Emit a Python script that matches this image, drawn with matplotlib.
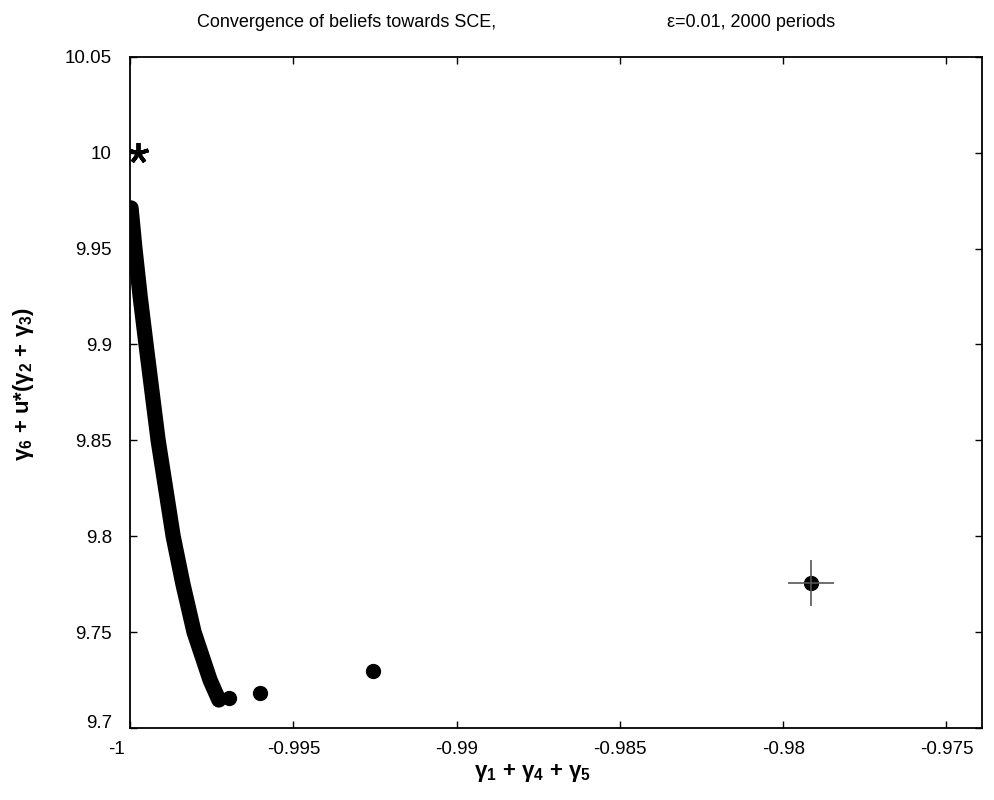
import matplotlib
matplotlib.use("Agg")
import matplotlib.pyplot as plt
from matplotlib.transforms import ScaledTranslation

plt.rcParams['font.family'] = ['Liberation Sans', 'DejaVu Sans']
plt.rcParams['mathtext.fontset'] = 'custom'
plt.rcParams['mathtext.rm'] = 'Liberation Sans'
plt.rcParams['mathtext.bf'] = 'Liberation Sans:bold'
plt.rcParams['mathtext.default'] = 'regular'

# belief path (dense part, 2000 periods merge into a thick band)
path_x = [-0.99997, -0.99985, -0.99969, -0.99951, -0.99914, -0.99868,
          -0.99838, -0.99804, -0.99755, -0.99728]
path_y = [9.9712, 9.950, 9.925, 9.900, 9.850, 9.800, 9.775, 9.750, 9.725, 9.7146]

# first periods, visible as separate dots
early_x = [-0.99697, -0.99602, -0.99256, -0.97915]
early_y = [9.7156, 9.7182, 9.7298, 9.7756]

# starting point (cross) and SCE (star)
start_x, start_y = -0.97915, 9.7756
sce_x, sce_y = -0.99976, 10.0

xticks = [-1, -0.995, -0.99, -0.985, -0.98, -0.975]
xtick_labels = ['-1', '-0.995', '-0.99', '-0.985', '-0.98', '-0.975']
yticks = [9.7, 9.75, 9.8, 9.85, 9.9, 9.95, 10.0, 10.05]
ytick_labels = ['9.7', '9.75', '9.8', '9.85', '9.9', '9.95', '10', '10.05']

fig = plt.figure(figsize=(9.95, 8.0), dpi=100)
ax = fig.add_axes([0.1307, 0.09, 0.8563, 0.839])

ax.plot(path_x, path_y, color='black', lw=11, solid_capstyle='round',
        solid_joinstyle='round')
ax.plot(early_x, early_y, 'o', color='black', ms=10, mec='black')
ax.plot([start_x], [start_y], '+', color='#555555', ms=33, mew=1.2)
ax.plot([sce_x], [sce_y], marker=(5, 2, 0), color='black', ms=15, mew=2.8)

ax.set_xlim(-1, -0.97391)
ax.set_ylim(9.7, 10.05)
ax.set_xticks(xticks)
ax.set_xticklabels(xtick_labels)
ax.set_yticks(yticks)
ax.set_yticklabels(ytick_labels)
ax.tick_params(direction='in', length=5, width=1, top=True, right=True,
               labelsize=13.5)
ax.tick_params(axis='y', pad=13)
ax.tick_params(axis='x', pad=9)
for s in ax.spines.values():
    s.set_linewidth(1.3)

# the "-1" label sits a bit left of its tick, "9.7" a bit above
lbl = ax.get_xticklabels()[0]
lbl.set_transform(lbl.get_transform() + ScaledTranslation(-0.14, 0, fig.dpi_scale_trans))
lbl = ax.get_yticklabels()[0]
lbl.set_transform(lbl.get_transform() + ScaledTranslation(0, 0.06, fig.dpi_scale_trans))

ax.set_xlabel(r'$\gamma_{\mathbf{1}}$ + $\gamma_{\mathbf{4}}$ + $\gamma_{\mathbf{5}}$',
              fontsize=16, fontweight='bold')
ax.set_ylabel(r'$\gamma_{\mathbf{6}}$ + u*($\gamma_{\mathbf{2}}$ + $\gamma_{\mathbf{3}}$)',
              fontsize=16, fontweight='bold')
ax.xaxis.set_label_coords(0.472, -0.05)
ax.yaxis.set_label_coords(-0.11, 0.513)

fig.text(0.348, 0.972, 'Convergence of beliefs towards SCE,', ha='center', va='center',
         fontsize=13)
fig.text(0.755, 0.972, '\u03b5=0.01, 2000 periods', ha='center', va='center',
         fontsize=13)

fig.savefig('out.png', dpi=100)
